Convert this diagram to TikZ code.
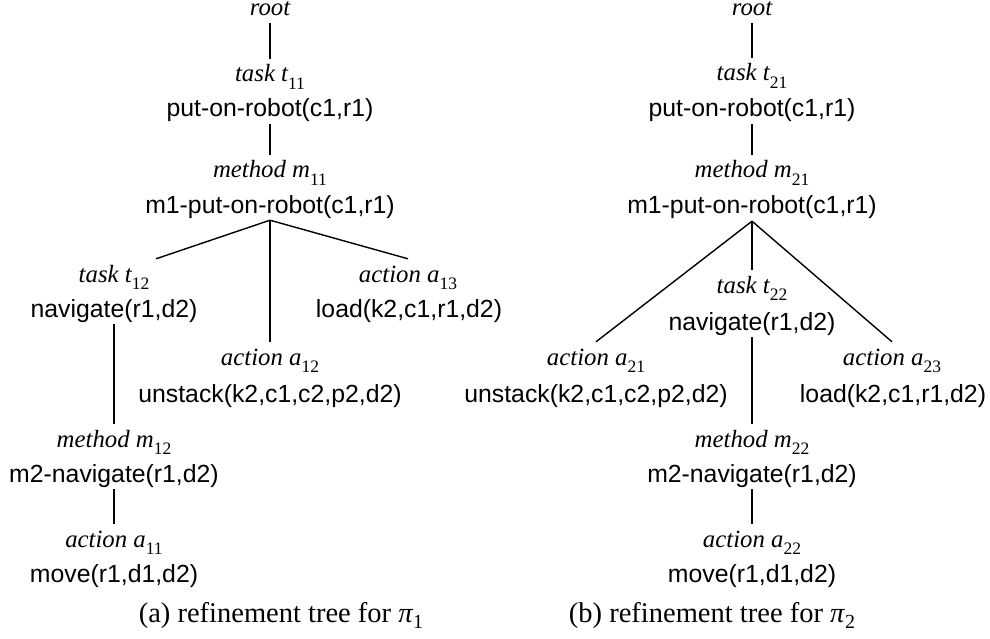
\documentclass[tikz,border=0pt]{standalone}
\usepackage{fontspec}
\setmainfont{Liberation Serif}
\newfontfamily\hvfont{Liberation Sans}
\newcommand\lsub[1]{\raisebox{-7.5pt}{\fontsize{17.5}{18}\selectfont\upshape #1}}
\newcommand\capsub[1]{\raisebox{-6pt}{\fontsize{20}{21}\selectfont\upshape #1}}
\tikzset{
  lab/.style={font=\rmfamily\itshape\fontsize{24.8}{26}\selectfont, inner sep=0pt, anchor=base, text height=23pt, text depth=9pt},
  rootlab/.style={lab, text height=13pt, text depth=7pt},
  nm/.style={font=\hvfont\fontsize{24.8}{26}\selectfont, inner sep=0pt, anchor=base, text height=18pt, text depth=7pt},
  captxt/.style={font=\rmfamily\fontsize{28.5}{30}\selectfont, inner sep=0pt, anchor=base},
  conn/.style={draw=black, line width=1.4pt}
}
\begin{document}
\begin{tikzpicture}[x=1pt, y=-1pt]
\useasboundingbox (0,0) rectangle (990,639);
% ---- tree (a)
\node[rootlab] (aR) at (270,16) {root};
\node[lab] (aT11) at (270,82) {task t\lsub{11}};
\node[nm] (aT11n) at (270,117) {put-on-robot(c1,r1)};
\node[lab] (aM11) at (270,178) {method m\lsub{11}};
\node[nm] (aM11n) at (270,213) {m1-put-on-robot(c1,r1)};
\node[lab] (aT12) at (114,282) {task t\lsub{12}};
\node[nm] (aT12n) at (114,317) {navigate(r1,d2)};
\node[lab] (aA12) at (270,365) {action a\lsub{12}};
\node[nm] (aA12n) at (270,402) {unstack(k2,c1,c2,p2,d2)};
\node[lab] (aA13) at (408,282) {action a\lsub{13}};
\node[nm] (aA13n) at (409,317) {load(k2,c1,r1,d2)};
\node[lab] (aM12) at (114,447) {method m\lsub{12}};
\node[nm] (aM12n) at (114,482) {m2-navigate(r1,d2)};
\node[lab] (aA11) at (114,547) {action a\lsub{11}};
\node[nm] (aA11n) at (114,582) {move(r1,d1,d2)};
\node[captxt] (capA) at (281,622) {(a) refinement tree for \textit{π}\capsub{1}};
\draw[conn] (aR.south) -- (aT11.north);
\draw[conn] (aT11n.south) -- (aM11.north);
\draw[conn] (aM11n.south) -- ([xshift=42pt]aT12.north);
\draw[conn] (aM11n.south) -- (aA12.north);
\draw[conn] (aM11n.south) -- (aA13.north);
\draw[conn] (aT12n.south) -- (aM12.north);
\draw[conn] (aM12n.south) -- (aA11.north);
% ---- tree (b)
\node[rootlab] (bR) at (752,16) {root};
\node[lab] (bT21) at (752,81) {task t\lsub{21}};
\node[nm] (bT21n) at (752,117) {put-on-robot(c1,r1)};
\node[lab] (bM21) at (752,178) {method m\lsub{21}};
\node[nm] (bM21n) at (752,214) {m1-put-on-robot(c1,r1)};
\node[lab] (bT22) at (752,293) {task t\lsub{22}};
\node[nm] (bT22n) at (752,330) {navigate(r1,d2)};
\node[lab] (bA21) at (596,365) {action a\lsub{21}};
\node[nm] (bA21n) at (596,402) {unstack(k2,c1,c2,p2,d2)};
\node[lab] (bA23) at (892,365) {action a\lsub{23}};
\node[nm] (bA23n) at (893,402) {load(k2,c1,r1,d2)};
\node[lab] (bM22) at (752,447) {method m\lsub{22}};
\node[nm] (bM22n) at (752,482) {m2-navigate(r1,d2)};
\node[lab] (bA22) at (752,547) {action a\lsub{22}};
\node[nm] (bA22n) at (752,582) {move(r1,d1,d2)};
\node[captxt] (capB) at (712,622) {(b) refinement tree for \textit{π}\capsub{2}};
\draw[conn] (bR.south) -- (bT21.north);
\draw[conn] (bT21n.south) -- (bM21.north);
\draw[conn] (bM21n.south) -- (bA21.north);
\draw[conn] (bM21n.south) -- (bT22.north);
\draw[conn] (bM21n.south) -- (bA23.north);
\draw[conn] (bT22n.south) -- (bM22.north);
\draw[conn] (bM22n.south) -- (bA22.north);
\end{tikzpicture}
\end{document}
